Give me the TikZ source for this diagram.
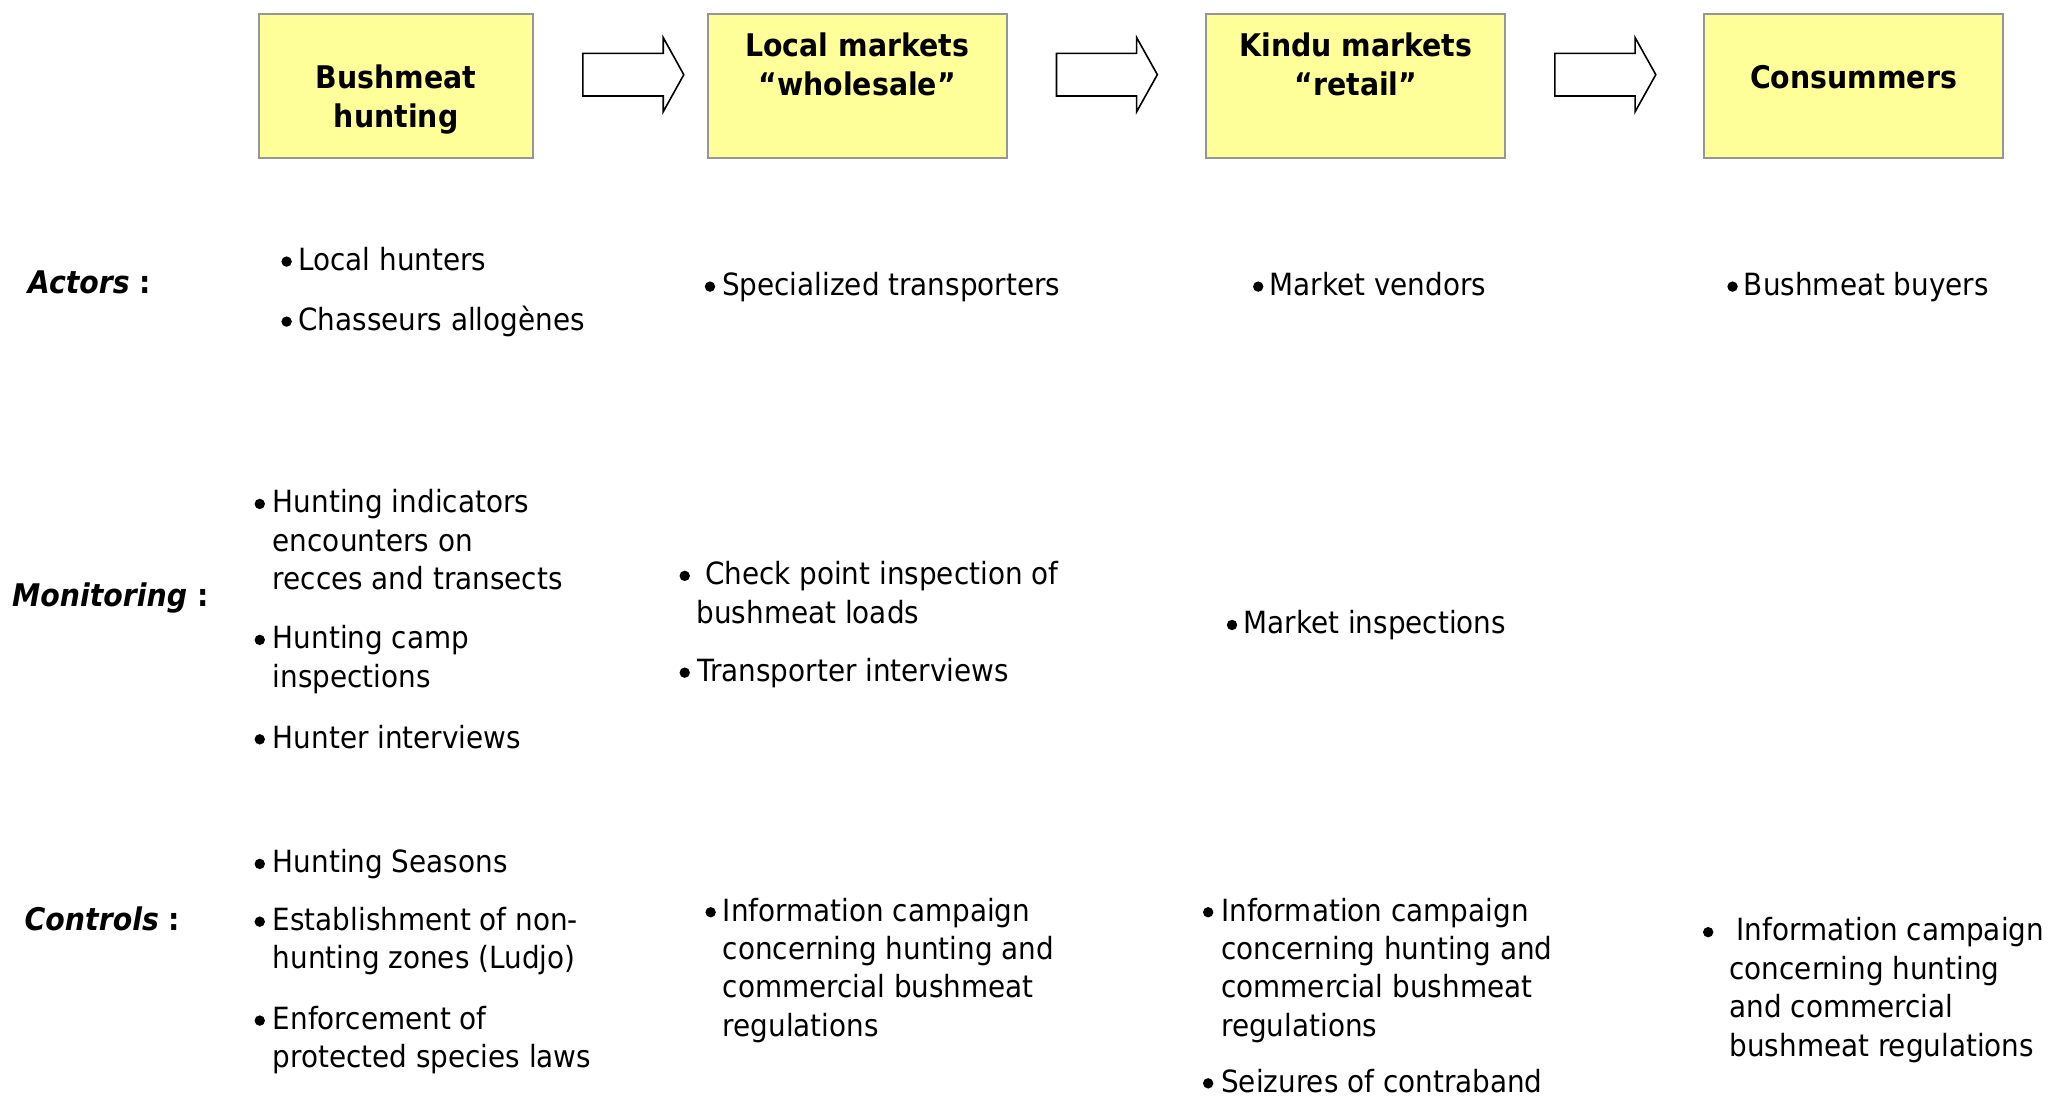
\documentclass[tikz,border=0pt]{standalone}
\usepackage{fontspec}
\setmainfont{DejaVu Sans}[FakeStretch=0.91]
\definecolor{boxfill}{HTML}{FFFF99}
\definecolor{boxline}{HTML}{969696}
\newcommand\bodyfont{\fontsize{15.3}{19.2}\selectfont}
\newcommand\boxfont{\fontsize{15.6}{19.5}\selectfont\bfseries}
\newcommand\labfont{\fontsize{15.6}{19.5}\selectfont\bfseries}
\newcommand\bitem[5]{%
  \node[bulletdot] (#1b) at (#2,#4-6.4) {};
  \node[itemtext] (#1) at (#3,#4) {\strut #5};}
\begin{document}
\begin{tikzpicture}[x=0.655pt,y=-0.655pt,
  box/.style={draw=boxline, fill=boxfill, line width=1pt, minimum height=72.2pt, inner sep=0pt},
  boxtext/.style={anchor=north, yshift=13.65pt, inner sep=0pt, align=center, font=\boxfont},
  lab/.style={anchor=base west, inner sep=0pt, font=\labfont},
  itemtext/.style={anchor=north west, yshift=13.44pt, inner sep=0pt, align=left, font=\bodyfont},
  bulletdot/.style={circle, fill=black, inner sep=0pt, minimum size=5.2pt},
  blockarrow/.style={draw=black, fill=white, line width=0.8pt, line join=miter}]
\useasboundingbox (0,0) rectangle (1568,840);

% top boxes
\node[box, minimum width=137pt]   (b1) at (302.45,65.8) {};
\node[box, minimum width=149.5pt] (b2) at (654.4,65.8) {};
\node[box, minimum width=149.5pt] (b3) at (1035.1,65.8) {};
\node[box, minimum width=149.7pt] (b4) at (1415,65.8) {};
\node[boxtext] (t1) at (302.45,67.4) {\strut Bushmeat\\hunting};
\node[boxtext] (t2) at (654.4,42.7) {\strut Local markets\\“wholesale”};
\node[boxtext] (t3) at (1035.1,42.7) {\strut Kindu markets\\“retail”};
\node[boxtext] (t4) at (1415,67.4) {\strut Consummers};

% block arrows
\draw[blockarrow] (445,40.7) -- (506.3,40.7) -- (506.3,28.7) -- (522,57) -- (506.3,85.3) -- (506.3,73.3) -- (445,73.3) -- cycle;
\draw[blockarrow] (806.5,40.7) -- (867.7,40.7) -- (867.7,28.7) -- (883.5,57) -- (867.7,85.3) -- (867.7,73.3) -- (806.5,73.3) -- cycle;
\draw[blockarrow] (1187,40.7) -- (1248.2,40.7) -- (1248.2,28.7) -- (1264,57) -- (1248.2,85.3) -- (1248.2,73.3) -- (1187,73.3) -- cycle;

% row labels
\node[lab] (lact) at (21,223.9) {\textit{Actors} :};
\node[lab] (lmon) at (9,463.1) {\textit{Monitoring} :};
\node[lab] (lcon) at (18.5,710) {\textit{Controls} :};

% actors
\bitem{a1}{218.8}{227.5}{206.1}{Local hunters}
\bitem{a2}{218.8}{227.5}{251.9}{Chasseurs allogènes}
\bitem{a3}{542}{551}{225.2}{Specialized transporters}
\bitem{a4}{960.5}{969}{225.2}{Market vendors}
\bitem{a5}{1322.6}{1331}{225.2}{Bushmeat buyers}

% monitoring
\bitem{m1}{198.3}{208}{391.1}{Hunting indicators\\encounters on\\recces and transects}
\bitem{m2}{198.3}{208}{494.9}{Hunting camp\\inspections}
\bitem{m3}{198.3}{208}{570.8}{Hunter interviews}
\bitem{m4}{522.7}{531.5}{446}{\hspace*{4.2pt}Check point inspection of\\bushmeat loads}
\bitem{m5}{522.7}{532}{519.9}{Transporter interviews}
\bitem{m6}{940.5}{949}{483.5}{Market inspections}

% controls
\bitem{c1}{198.3}{208}{665.9}{Hunting Seasons}
\bitem{c2}{198.3}{208}{710}{Establishment of non-\\hunting zones (Ludjo)}
\bitem{c3}{198.3}{208}{785.5}{Enforcement of\\protected species laws}
\bitem{c4}{542.5}{551.5}{702.8}{Information campaign\\concerning hunting and\\commercial bushmeat\\regulations}
\bitem{c5}{922.3}{932}{702.8}{Information campaign\\concerning hunting and\\commercial bushmeat\\regulations}
\bitem{c6}{922.3}{932}{833.4}{Seizures of contraband}
\bitem{c7}{1304}{1320}{718}{\hspace*{3.6pt}Information campaign\\concerning hunting\\and commercial\\bushmeat regulations}
\end{tikzpicture}
\end{document}
